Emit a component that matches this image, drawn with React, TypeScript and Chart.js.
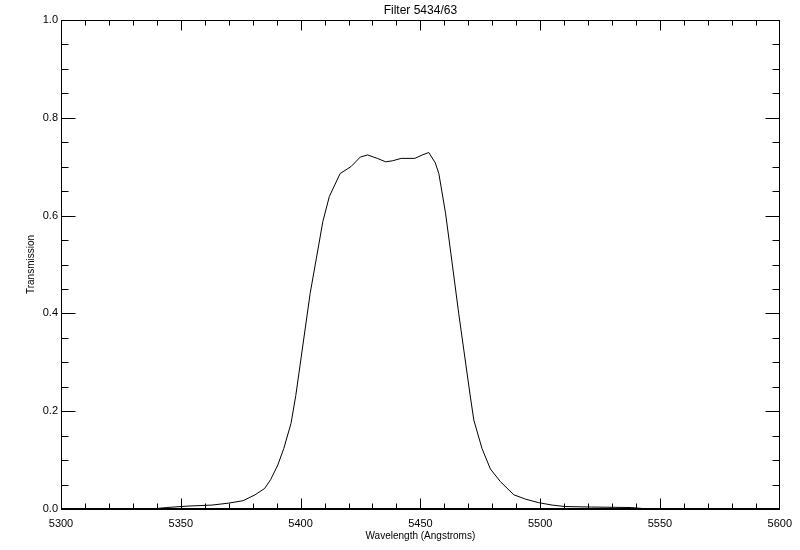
import React, { useEffect, useRef } from "react";
import { Chart, registerables } from "chart.js";

Chart.register(...registerables);

const title = "Filter 5434/63";
const xTitle = "Wavelength (Angstroms)";
const yTitle = "Transmission";

const wavelengths = [
  5300, 5320, 5335, 5340, 5344, 5353, 5363, 5370, 5376, 5381, 5385, 5387.5,
  5390.5, 5393, 5396, 5398, 5404, 5406.6, 5409.3, 5412, 5416.5, 5421, 5425,
  5428, 5432, 5435.5, 5438.3, 5442, 5447.7, 5450.8, 5453.5, 5456.2, 5457.7,
  5460.5, 5463.2, 5466, 5470.7, 5472.3, 5475.7, 5479.2, 5483.4, 5489, 5494,
  5499.3, 5505, 5510.4, 5521.5, 5538, 5545, 5600,
];
const transmission = [
  0, 0, 0.0005, 0.001, 0.003, 0.006, 0.008, 0.012, 0.017, 0.029, 0.042, 0.06,
  0.09, 0.124, 0.175, 0.232, 0.441, 0.513, 0.588, 0.639, 0.686, 0.7, 0.72,
  0.724, 0.717, 0.71, 0.712, 0.717, 0.717, 0.724, 0.729, 0.708, 0.686, 0.605,
  0.505, 0.4, 0.235, 0.182, 0.124, 0.082, 0.056, 0.029, 0.02, 0.013, 0.008,
  0.005, 0.004, 0.003, 0, 0,
];

const xMin = 5300;
const xMax = 5600;
const xMajor = 50;
const xMinor = 10;
const yMin = 0;
const yMax = 1;
const yMajor = 0.2;
const yMinor = 0.05;

const FONT = "'Liberation Sans', Arial, sans-serif";

const framePlugin = {
  id: "frame",
  afterDraw(chart: any) {
    const { ctx, chartArea } = chart;
    const xs = chart.scales.x;
    const ys = chart.scales.y;
    const { left, right, top, bottom } = chartArea;
    ctx.save();
    ctx.strokeStyle = "#000";
    ctx.fillStyle = "#000";
    ctx.lineWidth = 1;
    const L = Math.round(left) + 0.5;
    const R = Math.round(right) - 0.5;
    const T = Math.round(top) + 0.5;
    const B = Math.round(bottom) - 0.5;
    ctx.strokeRect(L, T, R - L, B - T);
    // thick bottom line (curve at zero lies on the axis)
    ctx.fillRect(L - 0.5, Math.round(bottom) - 1, R - L + 1, 2);
    ctx.beginPath();
    // x ticks
    for (let v = xMin; v <= xMax + 1e-6; v += xMinor) {
      const major = Math.abs(((v - xMin) / xMajor) - Math.round((v - xMin) / xMajor)) < 1e-6;
      const len = major ? 10 : 5;
      let px = Math.round(xs.getPixelForValue(v)) + 0.5;
      px = Math.min(Math.max(px, L), R);
      ctx.moveTo(px, B);
      ctx.lineTo(px, B - len);
      ctx.moveTo(px, T);
      ctx.lineTo(px, T + len);
    }
    // y ticks
    const nY = Math.round((yMax - yMin) / yMinor);
    for (let i = 0; i <= nY; i++) {
      const v = yMin + i * yMinor;
      const major = i % Math.round(yMajor / yMinor) === 0;
      const len = major ? 14 : 7;
      let py = Math.round(ys.getPixelForValue(v)) + 0.5;
      py = Math.min(Math.max(py, T), B);
      ctx.moveTo(L, py);
      ctx.lineTo(L + len, py);
      ctx.moveTo(R, py);
      ctx.lineTo(R - len, py);
    }
    ctx.stroke();

    ctx.textAlign = "center";
    ctx.textBaseline = "middle";
    const cx = (left + right) / 2;
    ctx.font = `12px ${FONT}`;
    ctx.fillText(title, cx, 11);
    ctx.font = `10px ${FONT}`;
    ctx.fillText(xTitle, cx, 536);
    ctx.save();
    ctx.translate(31, (top + bottom) / 2);
    ctx.rotate(-Math.PI / 2);
    ctx.fillText(yTitle, 0, 0);
    ctx.restore();
    ctx.restore();
  },
};

export default function App() {
  const ref = useRef<HTMLCanvasElement | null>(null);
  useEffect(() => {
    if (!ref.current) return;
    const chart = new Chart(ref.current, {
      type: "line",
      data: {
        datasets: [
          {
            data: wavelengths.map((w, i) => ({ x: w, y: transmission[i] })),
            borderColor: "#000",
            borderWidth: 1,
            pointRadius: 0,
            tension: 0,
            fill: false,
          },
        ],
      },
      options: {
        animation: false,
        responsive: false,
        events: [],
        layout: { padding: { left: 0, right: 18, top: 20, bottom: 0 } },
        plugins: {
          legend: { display: false },
          title: { display: false },
          tooltip: { enabled: false },
        },
        scales: {
          x: {
            type: "linear",
            min: xMin,
            max: xMax,
            grid: { display: false, drawTicks: false },
            border: { display: false },
            ticks: {
              stepSize: xMajor,
              color: "#000",
              font: { family: FONT, size: 11 },
              padding: 8,
              maxRotation: 0,
              callback: (v: any) => String(v),
            },
            afterFit: (s: any) => {
              s.height = 41;
            },
          },
          y: {
            type: "linear",
            min: yMin,
            max: yMax,
            grid: { display: false, drawTicks: false },
            border: { display: false },
            ticks: {
              stepSize: yMajor,
              color: "#000",
              font: { family: FONT, size: 11 },
              padding: 3,
              callback: (v: any) => Number(v).toFixed(1),
            },
            afterFit: (s: any) => {
              s.width = 61;
            },
          },
        },
      },
      plugins: [framePlugin],
    });
    return () => chart.destroy();
  }, []);
  return (
    <div style={{ position: "fixed", left: 0, top: 0, width: 800, height: 550, background: "#fff" }}>
      <canvas ref={ref} width={800} height={550} />
    </div>
  );
}
